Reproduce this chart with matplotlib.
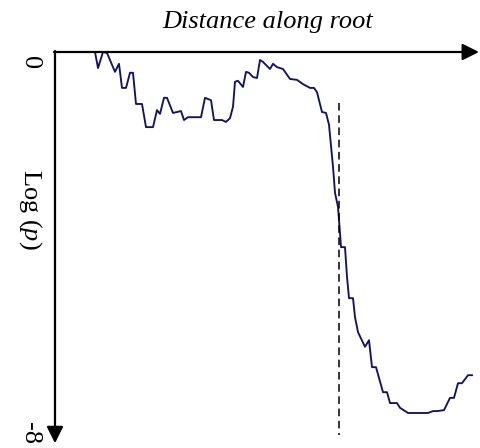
import matplotlib
matplotlib.use('Agg')
import matplotlib.pyplot as plt

plt.rcParams['font.family'] = ['Liberation Serif', 'DejaVu Serif']
plt.rcParams['mathtext.fontset'] = 'custom'
plt.rcParams['mathtext.rm'] = 'Liberation Serif'
plt.rcParams['mathtext.it'] = 'Liberation Serif:italic'

# Distance along root (arbitrary units) and log(p)
distance = [40, 43, 48, 52, 60, 64, 67, 71, 75, 78, 81, 87, 91, 98, 102, 105,
            109, 112, 118, 122, 126, 129, 133, 143, 146, 150, 156, 159, 167,
            171, 175, 178, 180, 183, 188, 191, 194, 198, 202, 205, 208, 215,
            218, 222, 228, 235, 242, 248, 255, 259, 262, 267, 271, 274, 278,
            280, 283, 285, 286, 290, 292, 294, 298, 300, 303, 310, 314, 317,
            321, 328, 332, 335, 342, 345, 353, 373, 378, 382, 389, 395, 399,
            403, 407, 413, 417]
log_p = [0.00, -0.34, 0.00, -0.02, -0.42, -0.25, -0.76, -0.76, -0.44, -0.44,
         -1.10, -1.10, -1.59, -1.59, -1.23, -1.31, -0.97, -0.97, -1.29, -1.27,
         -1.25, -1.44, -1.38, -1.38, -1.38, -0.97, -1.02, -1.44, -1.44, -1.48,
         -1.40, -1.16, -0.63, -0.61, -0.74, -0.42, -0.44, -0.53, -0.55, -0.17,
         -0.21, -0.36, -0.25, -0.32, -0.36, -0.57, -0.59, -0.68, -0.76, -0.76,
         -0.85, -1.27, -1.29, -1.54, -2.43, -2.98, -3.28, -3.83, -4.13, -4.13,
         -4.76, -5.21, -5.21, -5.61, -5.93, -6.24, -6.10, -6.67, -6.67, -7.20,
         -7.20, -7.43, -7.43, -7.53, -7.64, -7.64, -7.60, -7.60, -7.58, -7.32,
         -7.32, -7.01, -7.01, -6.84, -6.84]

marker_pos = 284      # dashed vertical line
x_end = 424           # arrow tip of distance axis
y_end = -8.28         # arrow tip of log(p) axis

fig = plt.figure(figsize=(4.8, 4.48), dpi=100)
ax = fig.add_axes([0, 0, 1, 1])
ax.set_xlim(-55, 425)
ax.set_ylim(-8.381, 1.1005)
ax.axis('off')

# axes drawn as arrows
arrow = dict(arrowstyle='-|>', lw=1.6, color='black', mutation_scale=25,
             shrinkA=0, shrinkB=0)
ax.annotate('', xy=(x_end, 0), xytext=(-1, 0), arrowprops=arrow)
ax.annotate('', xy=(0, y_end), xytext=(0, 0.02), arrowprops=arrow)

ax.plot(distance, log_p, color='#12126a', lw=1.35)
ax.plot([marker_pos, marker_pos], [-1.08, -8.1], color='black', lw=1.1,
        linestyle=(0, (5, 3)))

ax.text(213, 0.64, 'Distance along root', style='italic', fontsize=19,
        ha='center', va='center')
ax.text(-25, -0.23, '0', rotation=-90, fontsize=19, ha='center', va='center')
ax.text(-25, -8.07, '-8', rotation=-90, fontsize=19, ha='center', va='center')
ax.text(-25, -3.32, 'Log ($p$)', rotation=-90, fontsize=19, ha='center',
        va='center')

plt.savefig('out.png', dpi=100)
